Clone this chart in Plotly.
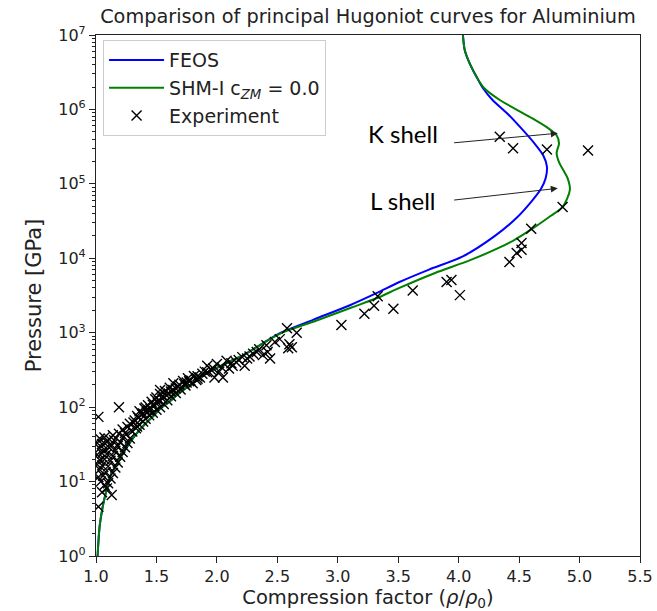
import plotly.graph_objects as go

# ---------------- data ----------------
feos_x = [1.004, 1.013, 1.03, 1.06, 1.09, 1.12, 1.18, 1.25, 1.33, 1.40, 1.47, 1.54, 1.60,
          1.70, 1.80, 1.91, 2.02, 2.12, 2.22, 2.38, 2.53, 2.80, 3.10, 3.32, 3.51, 3.75,
          4.03, 4.30, 4.48, 4.61, 4.68, 4.72, 4.73, 4.70, 4.62, 4.53, 4.40, 4.28, 4.20,
          4.15, 4.09, 4.05, 4.035, 4.03]
feos_p = [0.5, 1.0, 2.5, 5.0, 8.0, 12.0, 18.0, 28.0, 43.0, 58.0, 75.0, 98.0, 116.0,
          160.0, 210.0, 280.0, 350.0, 420.0, 500.0, 720.0, 1000.0, 1500.0, 2340.0, 3400.0,
          4800.0, 7000.0, 1.05e4, 2.0e4, 3.5e4, 6.0e4, 8.5e4, 1.2e5, 1.7e5, 2.4e5, 3.6e5,
          5.3e5, 8.9e5, 1.34e6, 1.94e6, 2.7e6, 4.2e6, 6.3e6, 1.0e7, 1.3e7]

shm_x = [1.004, 1.013, 1.03, 1.06, 1.09, 1.12, 1.18, 1.25, 1.33, 1.40, 1.47, 1.54, 1.60,
         1.70, 1.80, 1.91, 2.02, 2.12, 2.22, 2.38, 2.54, 2.82, 3.12, 3.32, 3.51, 3.80,
         4.10, 4.34, 4.47, 4.61, 4.76, 4.86, 4.92, 4.90, 4.83, 4.81, 4.83, 4.81, 4.74,
         4.59, 4.34, 4.21, 4.15, 4.09, 4.05, 4.035, 4.03]
shm_p = [0.5, 1.0, 2.5, 5.0, 8.0, 12.0, 18.0, 28.0, 43.0, 58.0, 75.0, 98.0, 116.0,
         160.0, 210.0, 280.0, 350.0, 420.0, 500.0, 720.0, 1000.0, 1450.0, 2200.0, 2900.0,
         4000.0, 6300.0, 9500.0, 1.4e4, 1.8e4, 2.5e4, 3.7e4, 4.9e4, 8.3e4, 1.2e5, 1.96e5,
         2.6e5, 3.5e5, 4.5e5, 5.6e5, 7.9e5, 1.34e6, 1.94e6, 2.7e6, 4.2e6, 6.3e6, 1.0e7, 1.3e7]

exp_x = [1.02, 1.13, 1.09, 1.05, 1.07, 1.04, 1.10, 1.02, 1.06, 1.12, 1.08, 1.03, 1.14,
         1.01, 1.05, 1.10, 1.16, 1.03, 1.07, 1.12, 1.18, 1.01, 1.05, 1.09, 1.14, 1.20,
         1.03, 1.07, 1.11, 1.16, 1.22, 1.01, 1.05, 1.09, 1.13, 1.18, 1.24, 1.03, 1.07,
         1.11, 1.15, 1.20, 1.26, 1.14, 1.19, 1.23, 1.28,
         1.26, 1.22, 1.30, 1.33, 1.28, 1.36, 1.32, 1.39, 1.35, 1.41, 1.02, 1.38, 1.44,
         1.36, 1.42, 1.47, 1.19, 1.40, 1.45, 1.50, 1.43, 1.48, 1.53, 1.46, 1.51, 1.56,
         1.50, 1.49, 1.55, 1.59, 1.53, 1.58, 1.62, 1.57, 1.62, 1.66, 1.53, 1.61, 1.66,
         1.70, 1.64, 1.69, 1.74, 1.80, 1.72, 1.77, 1.83, 1.76, 1.86, 1.81, 1.92, 1.98,
         2.05, 1.88, 1.95,
         1.24, 1.29, 1.34, 1.31, 1.37, 1.34, 1.39, 1.44, 1.41, 1.47, 1.52, 1.55, 1.60,
         1.64, 1.68, 1.73, 1.78, 1.84, 1.90, 1.68, 1.75, 1.84, 1.97, 2.02, 2.10, 2.16,
         1.92, 2.00, 2.04, 2.13, 2.12, 2.08, 2.18, 2.21, 2.25, 2.23, 2.30, 2.33, 2.38,
         2.42, 2.44, 2.41, 2.58, 2.59, 2.62, 2.60, 2.66, 2.27, 2.35, 2.48, 2.52,
         3.03, 3.22, 3.30, 3.33, 3.46, 3.62, 3.90, 3.94, 4.01, 4.42, 4.48, 4.52, 4.52,
         4.60, 4.86, 4.34, 4.45, 4.73, 5.07]
exp_p = [4.6, 6.6, 8.1, 7.2, 9.0, 10.0, 9.5, 11.5, 12.0, 11.0, 13.5, 14.5, 13.0,
         17.0, 16.5, 16.0, 15.5, 19.5, 20.0, 19.0, 18.0, 23.0, 24.0, 23.5, 22.0, 21.5,
         28.0, 27.0, 28.5, 26.0, 25.0, 33.0, 32.0, 34.0, 31.0, 30.0, 29.0, 38.0, 39.0,
         37.0, 36.0, 34.0, 33.0, 42.0, 44.0, 40.0, 38.0,
         54.0, 50.0, 47.0, 52.0, 60.0, 58.0, 66.0, 64.0, 72.0, 70.0, 74.0, 80.0, 78.0,
         88.0, 86.0, 84.0, 100.0, 96.0, 94.0, 92.0, 106.0, 104.0, 100.0, 118.0, 115.0, 110.0,
         135.0, 128.0, 130.0, 124.0, 150.0, 146.0, 140.0, 165.0, 162.0, 155.0, 170.0, 182.0, 178.0,
         172.0, 210.0, 200.0, 195.0, 210.0, 225.0, 222.0, 232.0, 245.0, 250.0, 262.0, 295.0, 250.0,
         250.0, 280.0, 320.0,
         45.0, 49.0, 55.0, 62.0, 68.0, 76.0, 82.0, 90.0, 99.0, 108.0, 122.0, 140.0, 152.0,
         170.0, 188.0, 205.0, 230.0, 260.0, 300.0, 190.0, 215.0, 240.0, 330.0, 300.0, 330.0, 400.0,
         360.0, 380.0, 340.0, 360.0, 390.0, 420.0, 430.0, 470.0, 450.0, 360.0, 520.0, 550.0, 500.0,
         550.0, 450.0, 680.0, 1150.0, 620.0, 640.0, 700.0, 1000.0, 480.0, 600.0, 750.0, 820.0,
         1270.0, 1800.0, 2300.0, 3100.0, 2100.0, 3700.0, 4800.0, 5100.0, 3200.0, 8900.0, 11800.0,
         13000.0, 16000.0, 25000.0, 49000.0, 430000.0, 300000.0, 290000.0, 280000.0]

x_ticks = [1.0, 1.5, 2.0, 2.5, 3.0, 3.5, 4.0, 4.5, 5.0, 5.5]
y_tick_exps = [0, 1, 2, 3, 4, 5, 6, 7]

# ---------------- figure ----------------
FONT = "DejaVu Sans"
fig = go.Figure()

fig.add_trace(go.Scatter(x=feos_x, y=feos_p, mode="lines", name="FEOS",
                         line=dict(color="#0000ff", width=2, shape="spline", smoothing=0.8)))
fig.add_trace(go.Scatter(x=shm_x, y=shm_p, mode="lines",
                         name="SHM-I c<sub><i>ZM</i></sub> = 0.0",
                         line=dict(color="#008000", width=2, shape="spline", smoothing=0.8)))
fig.add_trace(go.Scatter(x=exp_x, y=exp_p, mode="markers", name="Experiment",
                         marker=dict(symbol="x-thin", size=10,
                                     line=dict(color="black", width=1.4))))

minor_vals = [k * 10 ** n for n in range(0, 7) for k in range(2, 10)]

fig.update_layout(
    width=657, height=611,
    margin=dict(l=96, r=17, t=35, b=55, autoexpand=False),
    paper_bgcolor="white", plot_bgcolor="white",
    font=dict(family=FONT, color="#222", size=16),
    title=dict(text="Comparison of principal Hugoniot curves for Aluminium",
               x=0.5, xref="paper", xanchor="center", y=0.985, yanchor="top",
               font=dict(size=19.3, family=FONT, color="#222")),
    showlegend=True,
    legend=dict(x=0.013, y=0.99, xanchor="left", yanchor="top",
                bgcolor="rgba(255,255,255,0.9)", bordercolor="#cccccc", borderwidth=1,
                itemwidth=55,
                font=dict(size=19, family=FONT, color="#222"), tracegroupgap=0),
)

fig.update_xaxes(
    range=[1.0, 5.5], tickmode="array", tickvals=x_ticks,
    ticktext=[f"{v:.1f}" for v in x_ticks],
    ticks="outside", ticklen=6, tickwidth=1, tickcolor="#222",
    tickfont=dict(size=16), automargin=False,
    showline=True, linecolor="#222", linewidth=1.2, mirror=True,
    showgrid=False, zeroline=False,
    title=dict(text="Compression factor (<i>ρ</i>/<i>ρ</i><sub>0</sub>)",
               font=dict(size=19.5, family=FONT, color="#222"), standoff=14),
)
fig.update_yaxes(
    type="log", range=[0, 7], tickmode="array",
    tickvals=[10 ** e for e in y_tick_exps],
    ticktext=[f"10<sup>{e}</sup>" for e in y_tick_exps],
    ticks="outside", ticklen=6, tickwidth=1, tickcolor="#222",
    tickfont=dict(size=16), automargin=False,
    minor=dict(tickmode="array", tickvals=minor_vals, ticks="outside", ticklen=3,
               tickwidth=0.8, tickcolor="#222", showgrid=False),
    showline=True, linecolor="#222", linewidth=1.2, mirror=True,
    showgrid=False, zeroline=False,
    title=dict(text="Pressure [GPa]", font=dict(size=21, family=FONT, color="#222"),
               standoff=10),
)

# shell annotations
for label, ty, tail_y, head_y in [("K shell", 5.67, 5.55, 5.68),
                                  ("L shell", 4.77, 4.78, 4.94)]:
    fig.add_annotation(x=3.54, y=ty, xref="x", yref="y", text=label, showarrow=False,
                       font=dict(family="Lato", size=24, color="black"))
    fig.add_annotation(x=4.82, y=head_y, ax=3.95, ay=tail_y, xref="x", yref="y",
                       axref="x", ayref="y", text="", showarrow=True,
                       arrowhead=2, arrowsize=1.4, arrowwidth=1, arrowcolor="#222")

fig.write_html("out.html")
